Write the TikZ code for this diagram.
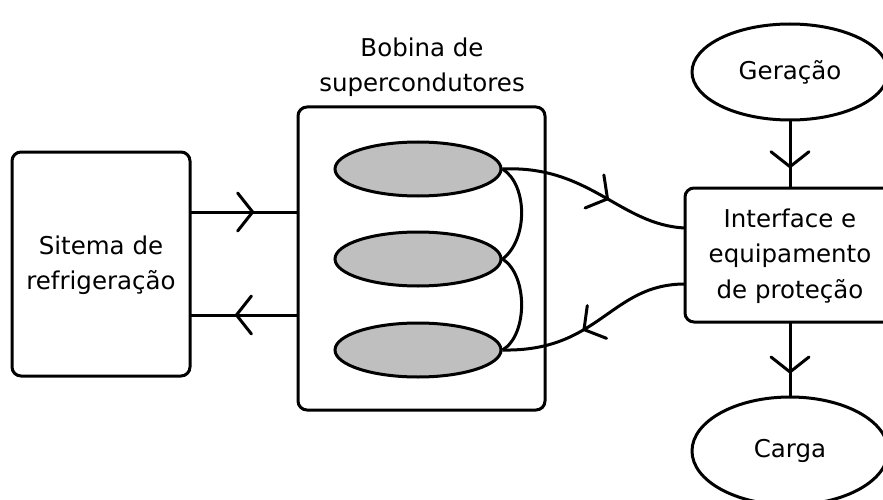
\documentclass[tikz,border=0pt]{standalone}
\usepackage{fontspec}
\setmainfont{DejaVu Sans}
\usetikzlibrary{decorations.markings,shapes.geometric}
\tikzset{
  line/.style={line width=3pt},
  box/.style={draw=black, rounded corners=9pt, line width=3pt},
  coil/.style={ellipse, draw=black, fill=black!25, line width=3pt, minimum width=166pt, minimum height=54pt},
  oval/.style={ellipse, draw=black, line width=3pt, minimum width=196pt},
  lbl/.style={align=center, font=\fontsize{24.5}{35.5}\selectfont},
  midarrow/.style={decoration={markings, mark=at position #1 with {\draw[line width=3pt, line cap=round, line join=miter] (-15pt,-19pt) -- (0pt,0pt) -- (-15pt,19pt);}}, postaction={decorate}},
}
\begin{document}
\begin{tikzpicture}[x=1pt,y=-1pt]
\useasboundingbox (0,0) rectangle (883,500);

% cooling system
\draw[box] (12,152) rectangle (190,376);
\node[lbl] (cool) at (101,265) {Sitema de\\refrigeração};

% superconducting coil enclosure
\draw[box] (298,107) rectangle (545,410);
\node[lbl] (title) at (422,67) {Bobina de\\supercondutores};
\node[coil] (c1) at (418,169) {};
\node[coil] (c2) at (418,259) {};
\node[coil] (c3) at (418,350) {};

% interface box
\draw[box] (685,188) rectangle (895,322);
\node[lbl] (iface) at (790,256) {Interface e\\equipamento\\de proteção};
\coordinate (ifN) at (790,188);
\coordinate (ifS) at (790,322);
\coordinate (ifW1) at (685,228);
\coordinate (ifW2) at (685,284);

\node[oval, minimum height=96pt] (gen) at (790,72) {};
\node[lbl] at (gen) {Geração};
\node[oval, minimum height=108pt] (load) at (790,451) {};
\node[lbl] at (load) {Carga};

% cooling loop
\draw[line, midarrow=0.58] (190,212) -- (298,212);
\draw[line, midarrow=0.57] (298,315) -- (190,315);

% power flow
\draw[line, midarrow=0.68] (gen.south) -- (ifN);
\draw[line, midarrow=0.68] (ifS) -- (load.north);

% coil series links
\draw[line] (c1.east) .. controls (528,185) and (528,240) .. (c2.east);
\draw[line] (c2.east) .. controls (528,275) and (528,335) .. (c3.east);

% coil to interface
\draw[line, midarrow=0.57] (c1.east) .. controls (590,165) and (620,225) .. (ifW1);
\draw[line, midarrow=0.57] (ifW2) .. controls (610,284) and (600,352) .. (c3.east);
\end{tikzpicture}
\end{document}
